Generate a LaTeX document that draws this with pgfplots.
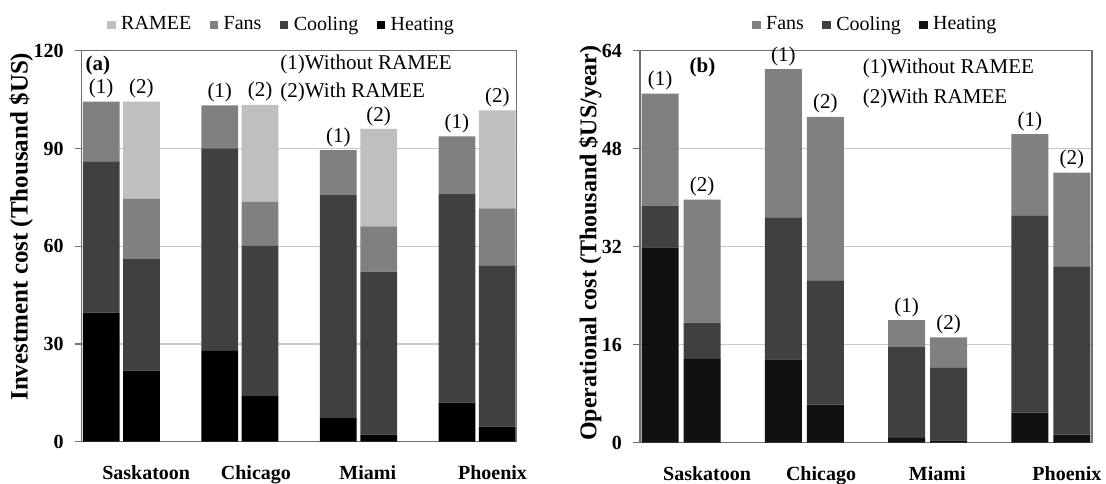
\documentclass[border=0pt]{standalone}
\usepackage{fontspec}
\setmainfont{Liberation Serif}
\usepackage{pgfplots}
\pgfplotsset{compat=1.18}

\definecolor{ramee}{HTML}{BFBFBF}
\definecolor{fans}{HTML}{808080}
\definecolor{cooling}{HTML}{404040}
\definecolor{heatA}{HTML}{000000}
\definecolor{heatB}{HTML}{111111}
\definecolor{framec}{HTML}{6E6E6E}
\definecolor{gridc}{HTML}{C8C8C8}

\tikzset{note/.style={font=\fontsize{10.5}{12.5}\selectfont, inner sep=1.5pt}}

\pgfplotsset{
  costbars/.style={
    scale only axis, ybar stacked, enlargelimits=false,
    xmin=-0.334, xmax=3.334, ymin=0, clip=false,
    axis line style={framec, line width=0.6pt},
    ymajorgrids, grid style={gridc, line width=0.6pt},
    tick align=outside, ytick pos=left, xtick pos=bottom,
    major tick length=3.3pt,
    ytick style={framec, line width=0.6pt}, xtick style={draw=none},
    xtick={0.21,1.135,2.078,3.13},
    xticklabels={Saskatoon,Chicago,Miami,Phoenix},
    /pgf/number format/assume math mode=true,
    tick label style={font=\bfseries\fontsize{10}{12}\selectfont},
    xticklabel style={yshift=-5pt},
    yticklabel style={xshift=-2.2pt},
    legend columns=-1, reverse legend,
    legend style={draw=none, fill=none, anchor=center,
      font=\fontsize{10}{12}\selectfont,
      /tikz/every odd column/.append style={column sep=1.6pt},
      /tikz/every even column/.append style={column sep=8pt},
      nodes={inner sep=1.2pt}},
    legend image code/.code={\fill[##1] (0pt,-2.1pt) rectangle (4.2pt,2.1pt);},
    every axis plot/.append style={draw=none},
  },
}

\begin{document}
\begin{tikzpicture}
\useasboundingbox (0,0) rectangle (553pt,241.5pt);

% (a) investment cost: bar (1) without RAMEE at i-0.17, bar (2) with RAMEE at i+0.17
\begin{axis}[costbars, at={(40.85pt,20.65pt)}, anchor=south west,
  width=217.5pt, height=195.5pt, bar width=0.31,
  ymax=120, ytick={0,30,60,90,120},
  ylabel={Investment cost (Thousand \$US)},
  ylabel style={at={(axis description cs:-0.139,0.55)}, anchor=center,
    font=\bfseries\fontsize{12.5}{14}\selectfont},
  legend style={at={(axis description cs:0.46,1.066)}}]
\addplot[fill=heatA] coordinates {(-0.17,39.6) (0.17,21.8) (0.83,27.9) (1.17,14.2) (1.83,7.2) (2.17,2.2) (2.83,12.0) (3.17,4.6)};
\addplot[fill=cooling] coordinates {(-0.17,46.4) (0.17,34.2) (0.83,62.1) (1.17,45.9) (1.83,68.5) (2.17,50.0) (2.83,64.0) (3.17,49.5)};
\addplot[fill=fans] coordinates {(-0.17,18.4) (0.17,18.5) (0.83,13.2) (1.17,13.5) (1.83,13.8) (2.17,13.9) (2.83,17.7) (3.17,17.5)};
\addplot[fill=ramee] coordinates {(-0.17,0) (0.17,29.9) (0.83,0) (1.17,29.8) (1.83,0) (2.17,29.9) (2.83,0) (3.17,30.1)};
\legend{Heating,Cooling,Fans,RAMEE}
\node[note, anchor=south] at (axis cs:-0.17,104.4) {(1)};
\node[note, anchor=south] at (axis cs:0.17,104.4) {(2)};
\node[note, anchor=south] at (axis cs:0.83,103.2) {(1)};
\node[note, anchor=south] at (axis cs:1.17,103.4) {(2)};
\node[note, anchor=south] at (axis cs:1.83,89.5) {(1)};
\node[note, anchor=south] at (axis cs:2.17,96.0) {(2)};
\node[note, anchor=south] at (axis cs:2.83,93.7) {(1)};
\node[note, anchor=south] at (axis cs:3.17,101.7) {(2)};
\node[anchor=west, inner sep=0pt, font=\bfseries\fontsize{10.5}{12.5}\selectfont] at (axis description cs:0.008,0.963) {(a)};
\node[note, anchor=west, inner sep=0pt] at (axis description cs:0.456,0.966) {(1)Without RAMEE};
\node[note, anchor=west, inner sep=0pt] at (axis description cs:0.456,0.893) {(2)With RAMEE};
\end{axis}

% (b) operational cost per year
\begin{axis}[costbars, at={(320pt,20.15pt)}, anchor=south west,
  width=226pt, height=196pt, bar width=0.30,
  ymax=64, ytick={0,16,32,48,64},
  ylabel={Operational cost (Thousand \$US/year)},
  ylabel style={at={(axis description cs:-0.11,0.509)}, anchor=center,
    font=\bfseries\fontsize{12}{14}\selectfont},
  legend style={at={(axis description cs:0.521,1.066)}}]
\addplot[fill=heatB] coordinates {(-0.17,31.9) (0.17,13.7) (0.83,13.6) (1.17,6.2) (1.83,0.8) (2.17,0.4) (2.83,4.9) (3.17,1.3)};
\addplot[fill=cooling] coordinates {(-0.17,6.8) (0.17,5.9) (0.83,23.2) (1.17,20.3) (1.83,14.8) (2.17,11.9) (2.83,32.2) (3.17,27.5)};
\addplot[fill=fans] coordinates {(-0.17,18.3) (0.17,20.1) (0.83,24.2) (1.17,26.7) (1.83,4.4) (2.17,4.9) (2.83,13.3) (3.17,15.3)};
\legend{Heating,Cooling,Fans}
\node[note, anchor=south] at (axis cs:-0.17,57.0) {(1)};
\node[note, anchor=south] at (axis cs:0.17,39.7) {(2)};
\node[note, anchor=south] at (axis cs:0.83,61.0) {(1)};
\node[note, anchor=south] at (axis cs:1.17,53.2) {(2)};
\node[note, anchor=south] at (axis cs:1.83,20.0) {(1)};
\node[note, anchor=south] at (axis cs:2.17,17.2) {(2)};
\node[note, anchor=south] at (axis cs:2.83,50.4) {(1)};
\node[note, anchor=south] at (axis cs:3.17,44.1) {(2)};
\node[anchor=west, inner sep=0pt, font=\bfseries\fontsize{10.5}{12.5}\selectfont] at (axis description cs:0.109,0.957) {(b)};
\node[note, anchor=west, inner sep=0pt] at (axis description cs:0.492,0.955) {(1)Without RAMEE};
\node[note, anchor=west, inner sep=0pt] at (axis description cs:0.492,0.879) {(2)With RAMEE};
\end{axis}
\end{tikzpicture}
\end{document}
